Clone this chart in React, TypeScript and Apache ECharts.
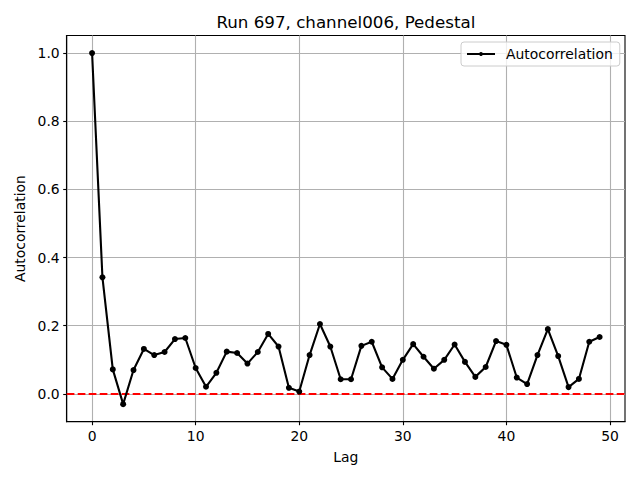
import React, { useEffect, useRef } from "react";
import * as echarts from "echarts";

const lags: number[] = Array.from({ length: 50 }, (_, i) => i);
const autocorr: number[] = [
  1.0, 0.342, 0.072, -0.03, 0.07, 0.132, 0.114, 0.123, 0.161, 0.164,
  0.076, 0.021, 0.062, 0.124, 0.12, 0.089, 0.123, 0.176, 0.139, 0.018,
  0.007, 0.114, 0.205, 0.139, 0.043, 0.043, 0.141, 0.153, 0.078, 0.044,
  0.1, 0.146, 0.109, 0.074, 0.1, 0.145, 0.094, 0.05, 0.079, 0.155,
  0.144, 0.048, 0.029, 0.114, 0.19, 0.111, 0.02, 0.044, 0.153, 0.167,
];
const xTicks: number[] = [0, 10, 20, 30, 40, 50];
const yTicks: number[] = [0, 0.2, 0.4, 0.6, 0.8, 1.0];
const titleText = "Run 697, channel006, Pedestal";
const seriesName = "Autocorrelation";

const FONT = "DejaVu Sans";

export default function App() {
  const ref = useRef<HTMLDivElement>(null);
  useEffect(() => {
    if (!ref.current) return;
    const chart = echarts.init(ref.current, undefined, { renderer: "svg" });
    const xMin = -2.45;
    const xMax = 51.45;
    const dMin = Math.min(...autocorr);
    const dMax = Math.max(...autocorr);
    const pad = (dMax - dMin) * 0.05;
    const gridLeft = 66.7;
    const gridRight = 15;
    const gridTop = 35.5;
    const gridBottom = 58.3;
    chart.setOption({
      animation: false,
      backgroundColor: "#ffffff",
      grid: {
        left: gridLeft,
        right: gridRight,
        top: gridTop,
        bottom: gridBottom,
        show: true,
        borderColor: "#000000",
        borderWidth: 1.1,
        backgroundColor: "transparent",
      },
      graphic: [
        {
          type: "text",
          x: (gridLeft + 640 - gridRight) / 2,
          y: 22,
          style: {
            text: titleText,
            textAlign: "center",
            textVerticalAlign: "middle",
            fontFamily: FONT,
            fontSize: 16.7,
            fill: "#000000",
          },
        },
      ],
      legend: {
        data: [seriesName],
        left: 461,
        top: 42,
        orient: "vertical",
        itemWidth: 28,
        itemHeight: 5,
        padding: [5, 7, 5, 5],
        borderColor: "#cccccc",
        borderWidth: 1,
        borderRadius: 3,
        backgroundColor: "rgba(255,255,255,0.8)",
        textStyle: {
          fontFamily: FONT,
          fontSize: 13.9,
          color: "#000000",
          padding: [0, 0, 0, 6],
        },
      },
      xAxis: {
        type: "value",
        min: xMin,
        max: xMax,
        name: "Lag",
        nameLocation: "middle",
        nameGap: 28,
        nameTextStyle: { fontFamily: FONT, fontSize: 13.9, color: "#000000" },
        axisLine: { show: true, onZero: false, lineStyle: { color: "#000000", width: 1.1 } },
        axisTick: {
          show: true,
          length: 3.5,
          customValues: xTicks,
          lineStyle: { color: "#000000", width: 1.1 },
        },
        axisLabel: {
          customValues: xTicks,
          margin: 7,
          fontFamily: FONT,
          fontSize: 13.9,
          color: "#000000",
          formatter: (v: number) => String(v),
        },
        splitLine: { show: true, lineStyle: { color: "#b0b0b0", width: 1.1 } },
      },
      yAxis: {
        type: "value",
        min: dMin - pad,
        max: dMax + pad,
        name: "Autocorrelation",
        nameLocation: "middle",
        nameGap: 39,
        nameTextStyle: { fontFamily: FONT, fontSize: 13.9, color: "#000000" },
        axisLine: { show: true, onZero: false, lineStyle: { color: "#000000", width: 1.1 } },
        axisTick: {
          show: true,
          length: 3.5,
          customValues: yTicks,
          lineStyle: { color: "#000000", width: 1.1 },
        },
        axisLabel: {
          customValues: yTicks,
          margin: 7,
          fontFamily: FONT,
          fontSize: 13.9,
          color: "#000000",
          formatter: (v: number) => v.toFixed(1),
        },
        splitLine: { show: true, lineStyle: { color: "#b0b0b0", width: 1.1 } },
      },
      series: [
        {
          name: seriesName,
          type: "line",
          data: lags.map((l, i) => [l, autocorr[i]]),
          symbol: "circle",
          symbolSize: 6,
          showSymbol: true,
          itemStyle: { color: "#000000" },
          lineStyle: { color: "#000000", width: 2.1 },
          z: 3,
          markLine: {
            silent: true,
            symbol: "none",
            label: { show: false },
            lineStyle: { color: "#ff0000", type: [7.7, 3.3], width: 2.1 },
            data: [{ yAxis: 0 }],
            z: 2,
          },
        },
      ],
    });
    return () => chart.dispose();
  }, []);
  return (
    <div
      ref={ref}
      style={{ position: "absolute", left: 0, top: 0, width: 640, height: 480 }}
    />
  );
}
